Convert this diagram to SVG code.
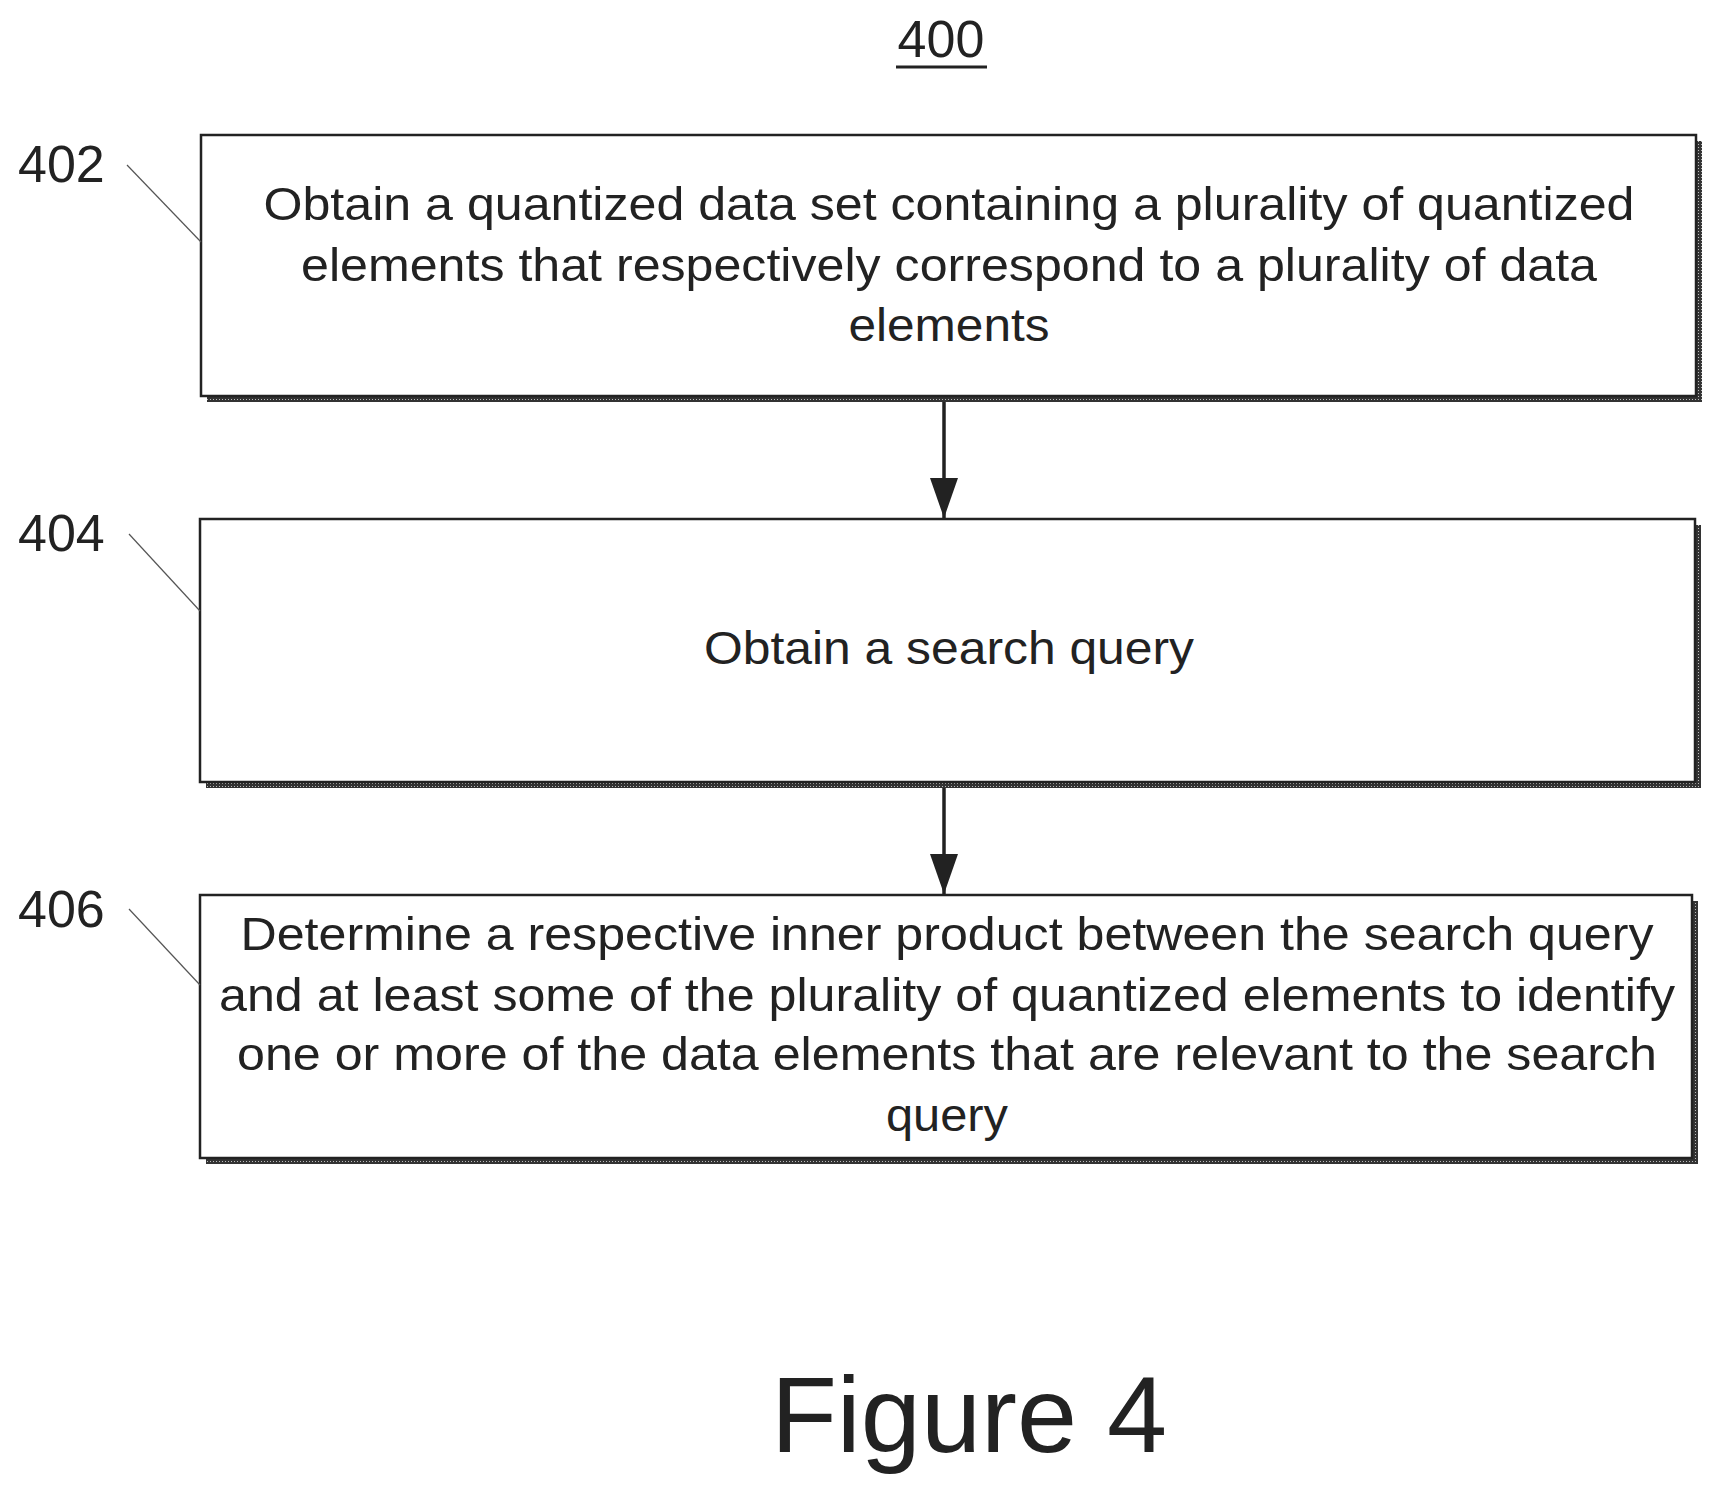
<svg xmlns="http://www.w3.org/2000/svg" width="1718" height="1487" viewBox="0 0 1718 1487">
<style>
text{font-family:"Liberation Sans",Arial,sans-serif;fill:#222}
.t{font-size:46px;text-anchor:middle}
.lbl{font-size:52px}
.box{fill:#fff;stroke:#222;stroke-width:2.5}
.sh{fill:url(#dots)}
.lead{stroke:#555;stroke-width:1.2;fill:none}
.conn{stroke:#222;stroke-width:3.5;fill:none}
</style>
<defs>
<pattern id="dots" width="3" height="3" patternUnits="userSpaceOnUse"><rect width="3" height="3" fill="#333"/><rect width="1" height="1" fill="#bbb"/></pattern>
<marker id="ah" markerWidth="40" markerHeight="28" refX="40" refY="14" orient="auto" markerUnits="userSpaceOnUse" viewBox="0 0 40 28"><path d="M0,0 L40,14 L0,28 z" fill="#222"/></marker>
</defs>
<text x="941" y="57" class="lbl" text-anchor="middle">400</text>
<line x1="896" y1="67" x2="987" y2="67" stroke="#222" stroke-width="3"/>
<g id="n402">
<rect class="sh" x="207" y="141" width="1495" height="261"/>
<rect class="box" x="201" y="135" width="1495" height="261"/>
<text class="t" x="949" y="220" textLength="1371" lengthAdjust="spacingAndGlyphs">Obtain a quantized data set containing a plurality of quantized</text>
<text class="t" x="949" y="281" textLength="1296" lengthAdjust="spacingAndGlyphs">elements that respectively correspond to a plurality of data</text>
<text class="t" x="949" y="341" textLength="201" lengthAdjust="spacingAndGlyphs">elements</text>
<text class="lbl" x="18" y="182">402</text>
<path class="lead" d="M127,165 L201,242"/>
</g>
<g id="n404">
<rect class="sh" x="206" y="525" width="1495" height="263"/>
<rect class="box" x="200" y="519" width="1495" height="263"/>
<text class="t" x="949" y="664" textLength="490" lengthAdjust="spacingAndGlyphs">Obtain a search query</text>
<text class="lbl" x="18" y="551">404</text>
<path class="lead" d="M129,534 L200,611"/>
</g>
<g id="n406">
<rect class="sh" x="206" y="901" width="1492" height="263"/>
<rect class="box" x="200" y="895" width="1492" height="263"/>
<text class="t" x="947" y="950" textLength="1413" lengthAdjust="spacingAndGlyphs">Determine a respective inner product between the search query</text>
<text class="t" x="947" y="1011" textLength="1456" lengthAdjust="spacingAndGlyphs">and at least some of the plurality of quantized elements to identify</text>
<text class="t" x="947" y="1070" textLength="1420" lengthAdjust="spacingAndGlyphs">one or more of the data elements that are relevant to the search</text>
<text class="t" x="947" y="1131" textLength="122" lengthAdjust="spacingAndGlyphs">query</text>
<text class="lbl" x="18" y="927">406</text>
<path class="lead" d="M129,909 L200,985"/>
</g>
<g id="connectors">
<path class="conn" d="M944,402 V518" marker-end="url(#ah)"/>
<path class="conn" d="M944,788 V894" marker-end="url(#ah)"/>
</g>
<text x="969" y="1452" font-size="108" text-anchor="middle">Figure 4</text>
</svg>
